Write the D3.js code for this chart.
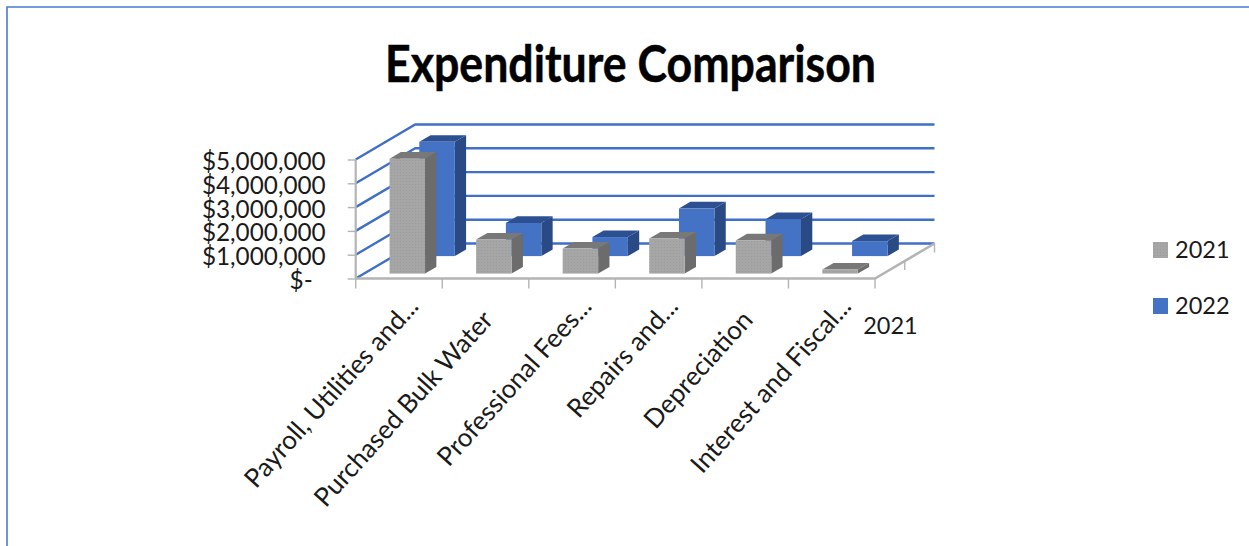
<!DOCTYPE html>
<html>
<head>
<meta charset="utf-8">
<script src="https://d3js.org/d3.v7.min.js"></script>
<style>
html,body{margin:0;padding:0;background:#fff;overflow:hidden}
text{font-family:Lato,"Liberation Sans",sans-serif;fill:#1a1a1a}
</style>
</head>
<body>
<svg id="chart" width="1249" height="546"></svg>
<script>
// Expenditure by category, two fiscal years
const categories = ["Payroll, Utilities and...", "Purchased Bulk Water", "Professional Fees...", "Repairs and...", "Depreciation", "Interest and Fiscal..."];
const years = ["2021", "2022"];
const values2021 = [4830000, 1430000, 1050000, 1470000, 1390000, 170000];
const values2022 = [4800000, 1390000, 800000, 2000000, 1550000, 630000];
const yTicks = [0, 1000000, 2000000, 3000000, 4000000, 5000000];

const svg = d3.select("#chart");
const palette = {
  "2021": {face: "url(#dither)", side: "#6c6c6c", top: "#787878"},
  "2022": {face: "#4472c4", side: "#2a4a85", top: "#2d5092"}
};
const grid = "#3f6fc6", axisGrey = "#b4b4b4";

// Oblique projection: the floor runs 60px right and 35px up from front to back
const depthX = 59.5, depthY = -35;
const x = d3.scaleBand().domain(categories).range([355.7, 875]);
const y = d3.scaleLinear().domain([0, 5000000]).range([278.5, 159.5]);
const z = d3.scaleBand().domain(years).range([0, 0.97]).paddingInner(0.62).paddingOuter(0.28);
const barShare = 0.41;

const defs = svg.append("defs");
const dither = defs.append("pattern").attr("id", "dither").attr("width", 3).attr("height", 3).attr("patternUnits", "userSpaceOnUse");
dither.append("rect").attr("width", 3).attr("height", 3).attr("fill", "#a6a6a6");
dither.append("rect").attr("x", 1).attr("y", 1).attr("width", 1).attr("height", 1).attr("fill", "#9b9b9b");

// Frame around the top and left edge of the sheet
svg.append("path").attr("d", "M7,546V7H1249").attr("fill", "none").attr("stroke", "#4a7bd0").attr("stroke-width", 1.6);

// Title
svg.append("text").attr("x", 630.5).attr("y", 82).attr("text-anchor", "middle")
  .attr("font-size", 51).attr("font-weight", 700).attr("textLength", 491).attr("lengthAdjust", "spacingAndGlyphs")
  .style("fill", "#000").style("stroke", "#000").style("stroke-width", 0.5).text("Expenditure Comparison");

// Side wall and back wall gridlines
svg.append("g").selectAll("path").data(yTicks).join("path")
  .attr("fill", "none").attr("stroke", grid).attr("stroke-width", 2.4)
  .attr("d", d => `M${x.range()[0]},${y(d)}L${x.range()[0] + depthX},${y(d) + depthY}H${x.range()[1] + depthX}`);

// Floor edges and ticks
const axes = svg.append("g").attr("stroke", axisGrey).attr("fill", "none");
axes.append("path").attr("stroke-width", 2.6)
  .attr("d", `M${x.range()[0]},${y(0)}H${x.range()[1]}L${x.range()[1] + depthX},${y(0) + depthY}`);
axes.append("path").attr("stroke-width", 2.2)
  .attr("d", `M${x.range()[0]},${y(5000000)}V${y(0)}`);
axes.selectAll(".xt").data(categories.concat([null])).join("path").attr("stroke-width", 1.4)
  .attr("d", (c) => {
    const px = c === null ? x.range()[1] : x(c);
    return `M${px},${y(0)}v10`;
  });
// Ticks along the depth axis, one per year boundary
axes.selectAll(".zt").data([0.5, 1]).join("path").attr("stroke-width", 1.4)
  .attr("d", t => `M${x.range()[1] + t * depthX},${y(0) + t * depthY}v9`);

// Value axis labels
const yAxis = d3.axisLeft(y).tickValues(yTicks).tickSize(8).tickPadding(22)
  .tickFormat(d => d === 0 ? "$-" : d3.format("$,")(d));
const yG = svg.append("g").attr("transform", `translate(${x.range()[0]},0)`).call(yAxis);
yG.select(".domain").remove();
yG.selectAll("line").attr("stroke", axisGrey).attr("stroke-width", 1.4);
yG.selectAll("text").attr("font-family", null).attr("font-size", 24.3).attr("dy", "0.62em").attr("y", -5)
  .attr("dx", d => d === 0 ? -13 : 0).style("fill", "#1a1a1a");

// 3D columns, back row first so the front row covers it
const series = [{year: "2022", values: values2022}, {year: "2021", values: values2021}];
const bandW = x.bandwidth() * barShare;
series.forEach(s => {
  const colors = palette[s.year];
  const g = svg.append("g");
  const d0 = z(s.year), d1 = d0 + z.bandwidth();
  const rows = categories.map((c, i) => {
    const left = x(c) + (x.bandwidth() - bandW) / 2 + d0 * depthX;
    const floor = y(0) + d0 * depthY;
    const h = y(0) - y(s.values[i]);
    return {left, right: left + bandW, floor, topY: floor - h,
      dx: (d1 - d0) * depthX, dy: (d1 - d0) * depthY};
  });
  g.selectAll(".side").data(rows).join("path").attr("fill", colors.side)
    .attr("d", r => `M${r.right},${r.floor}V${r.topY}l${r.dx},${r.dy}V${r.floor + r.dy}Z`);
  g.selectAll(".top").data(rows).join("path").attr("fill", colors.top)
    .attr("d", r => `M${r.left},${r.topY}H${r.right}l${r.dx},${r.dy}H${r.left + r.dx}Z`);
  g.selectAll(".face").data(rows).join("rect").attr("fill", colors.face)
    .attr("x", r => r.left).attr("y", r => r.topY).attr("width", bandW).attr("height", r => r.floor - r.topY);
});

// Slanted category labels; untruncated ones sit a little further from the axis
svg.append("g").selectAll("text").data(categories).join("text")
  .attr("text-anchor", "end").attr("font-size", 26)
  .attr("x", c => c.endsWith("...") ? 0 : -18)
  .attr("transform", c => `translate(${x(c) + x.bandwidth() / 2 + 21},${y(0) + 29}) rotate(-48)`)
  .text(c => c);

// Depth axis label
svg.append("text").attr("x", 890.5).attr("y", 334).attr("text-anchor", "middle").attr("font-size", 23.5).text(years[0]);

// Legend
const legend = svg.append("g").selectAll("g").data(years).join("g")
  .attr("transform", (d, i) => `translate(1153,${242 + i * 56})`);
legend.append("rect").attr("width", 15).attr("height", 16).attr("fill", d => palette[d].face);
legend.append("text").attr("x", 22).attr("y", 16).attr("font-size", 23.5).text(d => d);
</script>
</body>
</html>
